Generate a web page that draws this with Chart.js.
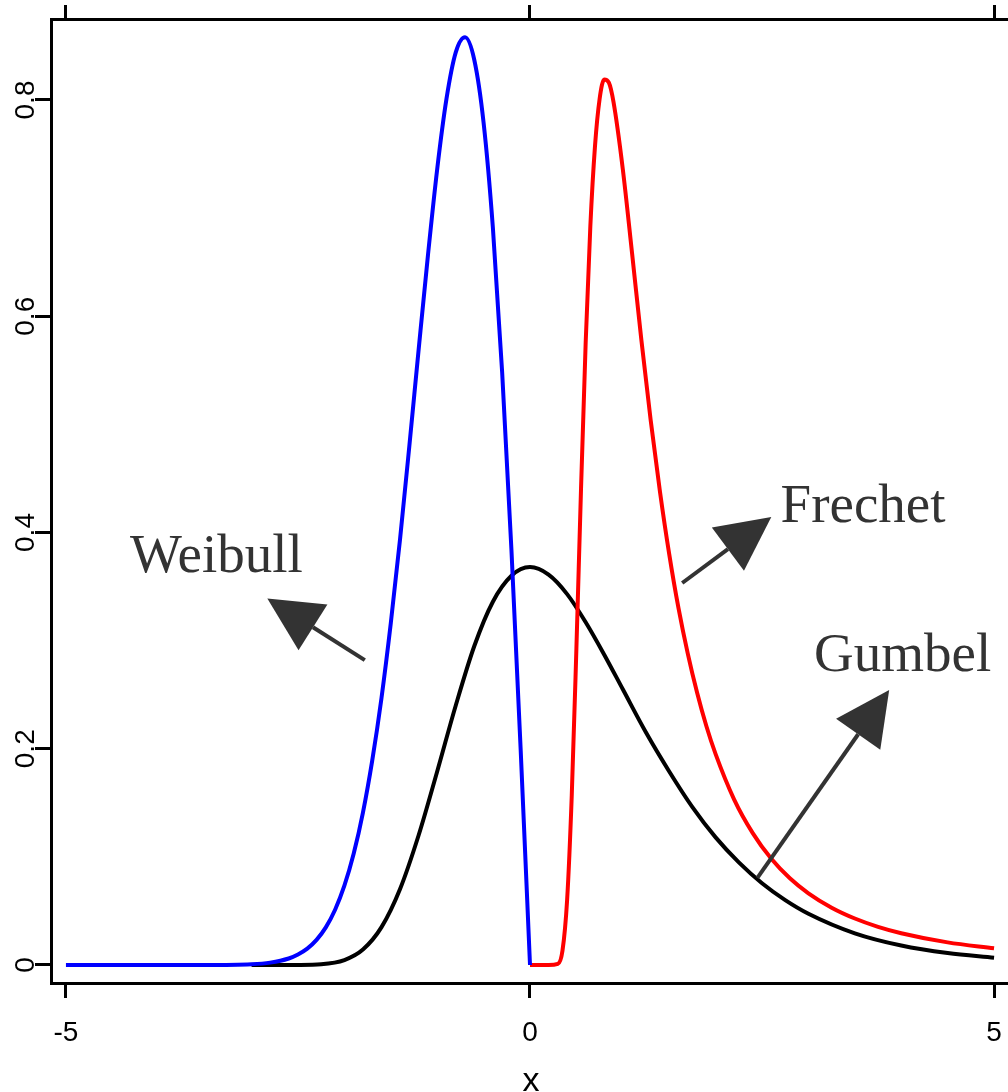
<!DOCTYPE html>
<html>
<head>
<meta charset="utf-8">
<script src="https://cdn.jsdelivr.net/npm/chart.js@4"></script>
<style>
  html, body { margin: 0; padding: 0; overflow: hidden; background: #fff; }
  canvas { display: block; }
</style>
</head>
<body>
<canvas id="evdChart" width="1020" height="1092"></canvas>
<script>
// axis ticks
const xTicks = [-5, 0, 5];
const yTicks = [0, 0.2, 0.4, 0.6, 0.8];
const yLabels = ['0', '0.2', '0.4', '0.6', '0.8'];

// Weibull (blue)
const weibullX = [-5, -4, -3.5, -3, -2.8, -2.6, -2.5, -2.4, -2.3, -2.2, -2.1, -2.0, -1.9, -1.8, -1.7, -1.6,
  -1.5, -1.4, -1.3, -1.2, -1.1, -1.0, -0.9, -0.8, -0.7, -0.6, -0.5, -0.4, -0.3, -0.2, -0.1, 0];
const weibullY = [0, 0, 0, 0.0007, 0.0022, 0.006, 0.0097, 0.0151, 0.0232, 0.0348, 0.0511, 0.0733, 0.1028, 0.141, 0.189, 0.247,
  0.316, 0.394, 0.48, 0.569, 0.656, 0.736, 0.801, 0.844, 0.858, 0.837, 0.779, 0.682, 0.548, 0.384, 0.198, 0];

// Frechet (red)
const frechetX = [0, 0.2, 0.3, 0.35, 0.4, 0.45, 0.5, 0.55, 0.6, 0.65, 0.7, 0.75, 0.8, 0.85, 0.9, 1.0, 1.1, 1.2, 1.3,
  1.4, 1.5, 1.6, 1.7, 1.8, 1.9, 2.0, 2.2, 2.4, 2.6, 2.8, 3.0, 3.25, 3.5, 3.75, 4.0, 4.5, 5.0];
const frechetY = [0, 0, 0.001, 0.0133, 0.0603, 0.157, 0.293, 0.441, 0.576, 0.683, 0.757, 0.801, 0.819, 0.816, 0.798, 0.736, 0.658, 0.578, 0.504,
  0.438, 0.38, 0.33, 0.288, 0.252, 0.221, 0.195, 0.153, 0.122, 0.0982, 0.0802, 0.0663, 0.053, 0.043, 0.0353, 0.0294, 0.0209, 0.0154];

// Gumbel (black)
const gumbelX = [-3, -2.5, -2.25, -2.0, -1.8, -1.6, -1.4, -1.2, -1.0, -0.8, -0.6, -0.4, -0.2, 0, 0.2, 0.4, 0.6, 0.8,
  1.0, 1.25, 1.5, 1.75, 2.0, 2.25, 2.5, 2.75, 3.0, 3.5, 4.0, 4.5, 5.0];
const gumbelY = [0, 0.0001, 0.0007, 0.0046, 0.0143, 0.035, 0.0703, 0.12, 0.179, 0.24, 0.295, 0.336, 0.36, 0.368, 0.361, 0.343, 0.317, 0.287,
  0.255, 0.215, 0.179, 0.146, 0.118, 0.0949, 0.0756, 0.06, 0.0474, 0.0293, 0.018, 0.011, 0.0067];

const toPoints = (xs, ys) => xs.map((x, i) => ({ x: x, y: ys[i] }));

// text labels with arrows, in data units
const notes = [
  { text: 'Weibull', at: [-4.31, 0.3635], from: [-1.78, 0.282], to: [-2.83, 0.339] },
  { text: 'Frechet', at: [2.70, 0.4097], from: [1.64, 0.3533], to: [2.60, 0.4143] },
  { text: 'Gumbel', at: [3.06, 0.2719], from: [2.45, 0.0805], to: [3.87, 0.2543] }
];

const extras = {
  id: 'extras',
  afterDraw(chart) {
    const ctx = chart.ctx;
    const sx = chart.scales.x, sy = chart.scales.y;
    ctx.save();

    // rotated y tick labels
    ctx.font = '28px "Liberation Sans", Arial, sans-serif';
    ctx.fillStyle = '#000';
    ctx.textAlign = 'center';
    ctx.textBaseline = 'middle';
    yTicks.forEach((v, i) => {
      ctx.save();
      ctx.translate(26, sy.getPixelForValue(v));
      ctx.rotate(-Math.PI / 2);
      ctx.fillText(yLabels[i], 0, 0);
      ctx.restore();
    });

    // annotations
    ctx.fillStyle = '#333';
    ctx.strokeStyle = '#333';
    ctx.lineWidth = 4;
    ctx.font = '55px "Liberation Serif", "Times New Roman", serif';
    ctx.textAlign = 'left';
    ctx.textBaseline = 'alphabetic';
    notes.forEach(n => {
      ctx.fillText(n.text, sx.getPixelForValue(n.at[0]), sy.getPixelForValue(n.at[1]));
      const x1 = sx.getPixelForValue(n.from[0]), y1 = sy.getPixelForValue(n.from[1]);
      const x2 = sx.getPixelForValue(n.to[0]), y2 = sy.getPixelForValue(n.to[1]);
      const ang = Math.atan2(y2 - y1, x2 - x1);
      const len = 54, half = 27;
      const bx = x2 - len * Math.cos(ang), by = y2 - len * Math.sin(ang);
      ctx.beginPath();
      ctx.moveTo(x1, y1);
      ctx.lineTo(bx, by);
      ctx.stroke();
      ctx.beginPath();
      ctx.moveTo(x2, y2);
      ctx.lineTo(bx + half * Math.sin(ang), by - half * Math.cos(ang));
      ctx.lineTo(bx - half * Math.sin(ang), by + half * Math.cos(ang));
      ctx.closePath();
      ctx.fill();
    });
    ctx.restore();
  }
};

const lineStyle = {
  borderWidth: 4,
  pointRadius: 0,
  fill: false,
  cubicInterpolationMode: 'monotone'
};

new Chart(document.getElementById('evdChart'), {
  type: 'line',
  data: {
    datasets: [
      Object.assign({ label: 'Gumbel', data: toPoints(gumbelX, gumbelY), borderColor: '#000000', order: 2 }, lineStyle),
      Object.assign({ label: 'Weibull', data: toPoints(weibullX, weibullY), borderColor: '#0000ff', order: 1 }, lineStyle),
      Object.assign({ label: 'Frechet', data: toPoints(frechetX, frechetY), borderColor: '#ff0000', order: 1 }, lineStyle)
    ]
  },
  options: {
    responsive: false,
    animation: false,
    layout: { padding: { left: 0, right: 8, top: 0, bottom: 0 } },
    plugins: {
      legend: { display: false },
      tooltip: { enabled: false }
    },
    scales: {
      x: {
        type: 'linear',
        position: 'bottom',
        min: -5.161,
        max: 5.183,
        afterBuildTicks: s => { s.ticks = xTicks.map(v => ({ value: v })); },
        afterFit: s => { s.height = 109; },
        ticks: {
          color: '#000',
          padding: 18,
          maxRotation: 0,
          font: { family: '"Liberation Sans", Arial, sans-serif', size: 28 },
          callback: v => String(v)
        },
        grid: { drawOnChartArea: false, drawTicks: true, tickLength: 15, tickWidth: 3, tickColor: '#000' },
        border: { display: true, color: '#000', width: 3 },
        title: {
          display: true,
          text: 'x',
          color: '#000',
          padding: 0,
          font: { family: '"Liberation Sans", Arial, sans-serif', size: 34, lineHeight: 0.6 }
        }
      },
      x2: {
        type: 'linear',
        position: 'top',
        min: -5.161,
        max: 5.183,
        afterBuildTicks: s => { s.ticks = xTicks.map(v => ({ value: v })); },
        afterFit: s => { s.height = 19; },
        ticks: { display: false },
        grid: { drawOnChartArea: false, drawTicks: true, tickLength: 14, tickWidth: 3, tickColor: '#000' },
        border: { display: true, color: '#000', width: 3 }
      },
      y: {
        type: 'linear',
        position: 'left',
        min: -0.01665,
        max: 0.8749,
        afterBuildTicks: s => { s.ticks = yTicks.map(v => ({ value: v })); },
        afterFit: s => { s.width = 51; },
        ticks: { display: false },
        grid: { drawOnChartArea: false, drawTicks: true, tickLength: 16, tickWidth: 3, tickColor: '#000' },
        border: { display: true, color: '#000', width: 3 }
      }
    }
  },
  plugins: [extras]
});
</script>
</body>
</html>
